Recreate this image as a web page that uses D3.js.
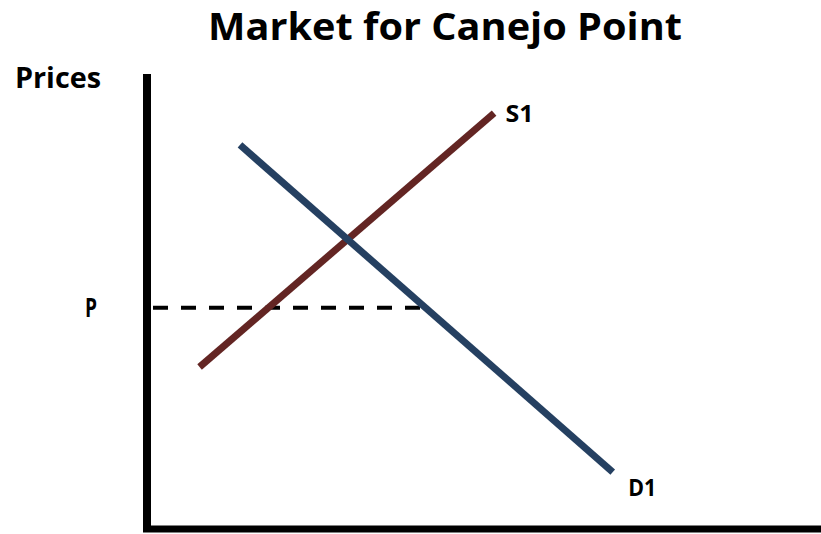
<!DOCTYPE html>
<html>
<head>
<meta charset="utf-8">
<script src="https://cdn.jsdelivr.net/npm/d3@7"></script>
<style>
  body { margin: 0; background: #fff; }
  svg { display: block; }
  text { font-family: "Open Sans", sans-serif; font-weight: bold; fill: #000; }
</style>
</head>
<body>
<svg class="chart"></svg>
<script>
const W = 821, H = 534;
const margin = {top: 74, bottom: 5, left: 147, right: 0};

// data (quantity, price), 0-100 scale
var supply = [[7.8, 35.6], [51.5, 91.4]];
var demand = [[13.8, 84.4], [69.1, 12.5]];
var priceP = 48.6;
var priceEnd = 40.8;   // where dashed line meets D1
var lineLabels = [
  {name: "S1", q: 53.2, p: 91.2},
  {name: "D1", q: 71.4, p: 9.0}
];

const svg = d3.select('.chart').attr('width', W).attr('height', H);

var x = d3.scaleLinear().domain([0, 100]).range([margin.left, W - margin.right]);
var y = d3.scaleLinear().domain([0, 100]).range([H - margin.bottom, margin.top]);

// title
svg.append('text')
  .attr('x', 445).attr('y', 40)
  .attr('text-anchor', 'middle')
  .attr('font-size', 38)
  .attr('textLength', 474).attr('lengthAdjust', 'spacingAndGlyphs')
  .text('Market for Canejo Point');

// axis label
svg.append('text')
  .attr('x', 15).attr('y', 88)
  .attr('font-size', 29)
  .attr('textLength', 86).attr('lengthAdjust', 'spacingAndGlyphs')
  .text('Prices');

// dashed price line
svg.append('line')
  .attr('x1', x(0) + 6).attr('x2', x(priceEnd))
  .attr('y1', y(priceP)).attr('y2', y(priceP))
  .attr('stroke', '#000').attr('stroke-width', 4)
  .attr('stroke-dasharray', '15,13');

svg.append('text')
  .attr('x', 91).attr('y', 317)
  .attr('text-anchor', 'middle')
  .attr('font-size', 26)
  .attr('textLength', 12).attr('lengthAdjust', 'spacingAndGlyphs')
  .text('P');

var line = d3.line().x(d => x(d[0])).y(d => y(d[1]));

svg.append('path').datum(supply)
  .attr('d', line).attr('fill', 'none')
  .attr('stroke', '#632523').attr('stroke-width', 7);

svg.append('path').datum(demand)
  .attr('d', line).attr('fill', 'none')
  .attr('stroke', '#254061').attr('stroke-width', 7);

svg.selectAll('.lbl').data(lineLabels).enter().append('text')
  .attr('class', 'lbl')
  .attr('x', d => x(d.q)).attr('y', d => y(d.p) + 8)
  .attr('font-size', 24)
  .attr('textLength', 28).attr('lengthAdjust', 'spacingAndGlyphs')
  .text(d => d.name);

// axes
svg.append('line')
  .attr('x1', x(0)).attr('x2', x(0))
  .attr('y1', y(100)).attr('y2', y(0) + 3)
  .attr('stroke', '#000').attr('stroke-width', 8);
svg.append('line')
  .attr('x1', x(0) - 4).attr('x2', x(100))
  .attr('y1', y(0)).attr('y2', y(0))
  .attr('stroke', '#000').attr('stroke-width', 7);
</script>
</body>
</html>
